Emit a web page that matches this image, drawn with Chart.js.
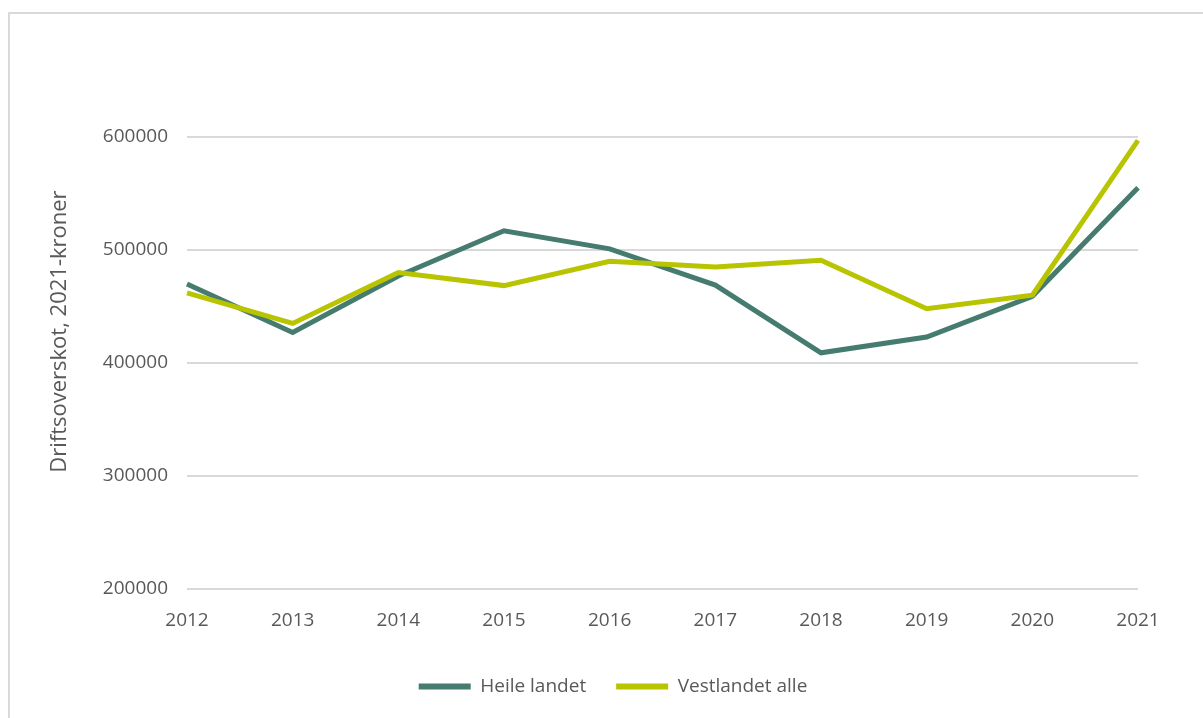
<!DOCTYPE html>
<html>
<head>
<meta charset="utf-8">
<script src="https://cdn.jsdelivr.net/npm/chart.js@4.4.0/dist/chart.umd.min.js"></script>
<style>
  body { margin: 0; background: #fff; overflow: hidden; }
  #frame { position: absolute; left: 8px; top: 12px; width: 1400px; height: 900px; border: 2px solid #d9d9d9; }
  #wrap { position: absolute; left: 0; top: 0; width: 1203px; height: 718px; }
</style>
</head>
<body>
<div id="frame"></div>
<div id="wrap"><canvas id="lineChart"></canvas></div>
<script>
// Data
const years = ['2012', '2013', '2014', '2015', '2016', '2017', '2018', '2019', '2020', '2021'];
const heileLandet = [470000, 427000, 477000, 517000, 501000, 469000, 409000, 423000, 459000, 555000];
const vestlandetAlle = [462000, 435000, 480000, 468500, 490000, 485000, 491000, 448000, 460000, 597000];
const yTicks = [200000, 300000, 400000, 500000, 600000];

const textColor = '#595959';
const fontFamily = "'Open Sans', 'Liberation Sans', sans-serif";

// Setup
const dataLines = {
  labels: years,
  datasets: [{
    label: 'Heile landet',
    data: heileLandet,
    borderColor: '#467b70',
    backgroundColor: '#467b70',
    borderWidth: 5,
    pointRadius: 0,
    tension: 0,
    order: 2
  }, {
    label: 'Vestlandet alle',
    data: vestlandetAlle,
    borderColor: '#b9c400',
    backgroundColor: '#b9c400',
    borderWidth: 5,
    pointRadius: 0,
    tension: 0,
    order: 1
  }]
};

// config - line chart
const configLines = {
  type: 'line',
  data: dataLines,
  options: {
    responsive: true,
    maintainAspectRatio: false,
    animation: false,
    clip: false,
    layout: {
      padding: { left: 23, right: 0, top: 137, bottom: 12 }
    },
    plugins: {
      tooltip: { enabled: false },
      legend: {
        position: 'bottom',
        labels: {
          boxWidth: 52,
          boxHeight: 6,
          padding: 30,
          color: textColor,
          font: { family: fontFamily, size: 19 },
          generateLabels: function (chart) {
            return chart.data.datasets.map((ds, i) => ({
              text: ds.label,
              fillStyle: ds.borderColor,
              strokeStyle: ds.borderColor,
              lineWidth: 0,
              fontColor: textColor,
              datasetIndex: i
            }));
          }
        }
      }
    },
    scales: {
      x: {
        offset: false,
        grid: { display: false, drawTicks: false },
        border: { display: false },
        ticks: {
          color: textColor,
          padding: 20,
          maxRotation: 0,
          font: { family: fontFamily, size: 19 }
        },
        afterFit: function (scale) { scale.height = 58; }
      },
      y: {
        min: 200000,
        max: 600000,
        afterBuildTicks: function (scale) {
          scale.ticks = yTicks.map(v => ({ value: v }));
        },
        grid: { color: '#d9d9d9', lineWidth: 2, drawTicks: false },
        border: { display: false },
        ticks: {
          color: textColor,
          padding: 19,
          font: { family: fontFamily, size: 19 },
          callback: function (value) { return String(value); }
        },
        title: {
          display: true,
          // leading spaces nudge the title up a little, as in the original
          text: '\u00a0'.repeat(11) + 'Driftsoverskot, 2021-kroner',
          color: textColor,
          padding: { top: 24, bottom: 0 },
          font: { family: fontFamily, size: 22 }
        },
        afterFit: function (scale) { scale.width = 187 - 23; }
      },
      // empty spacer on the right so the plot ends where the reference does
      spacer: {
        type: 'linear',
        position: 'right',
        display: true,
        grid: { display: false, drawTicks: false },
        border: { display: false },
        ticks: { display: false },
        afterFit: function (scale) { scale.width = 65; }
      }
    }
  }
};

// render chart block
const lineChart = new Chart(
  document.getElementById('lineChart'),
  configLines
);
</script>
</body>
</html>
